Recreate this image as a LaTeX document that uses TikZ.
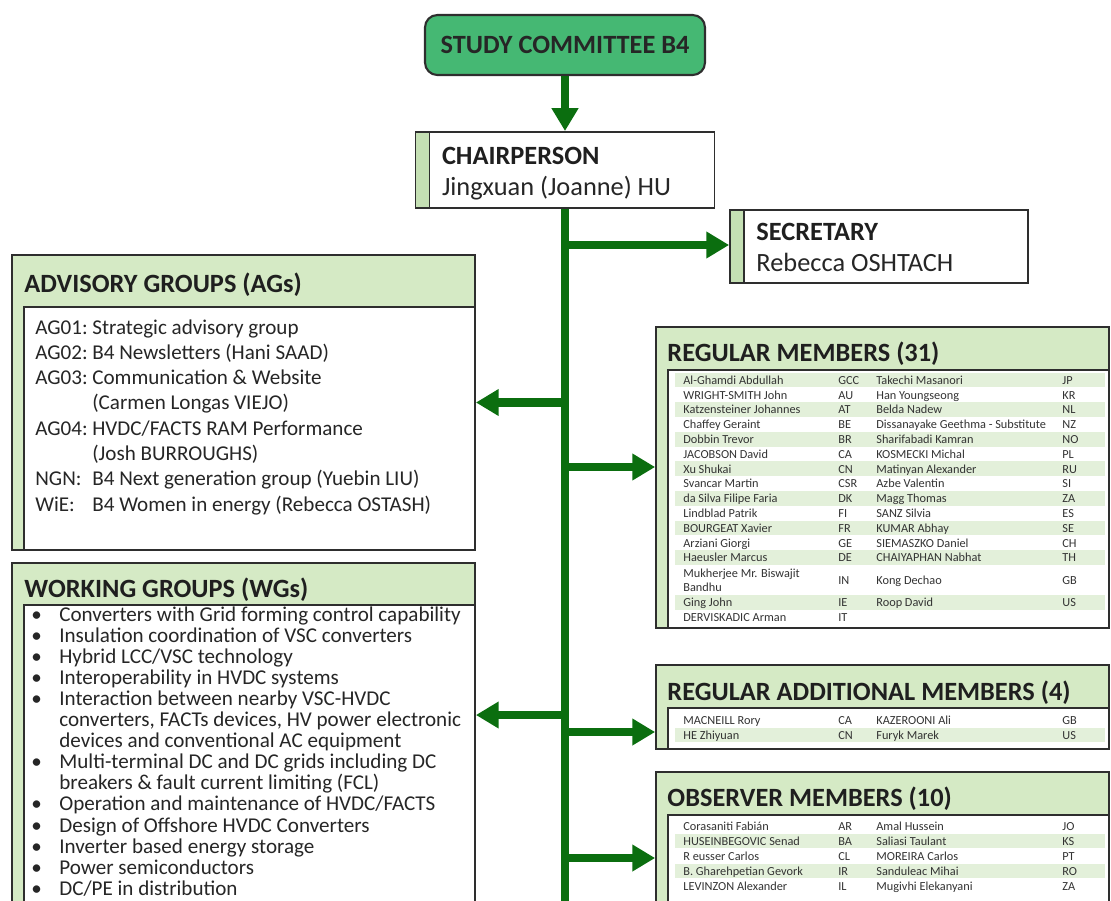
\documentclass[tikz,border=0pt]{standalone}
\usepackage{fontspec}
\setmainfont{Carlito}
\usetikzlibrary{arrows.meta,positioning,fit}

\definecolor{trunkgreen}{HTML}{0B6E0F}
\definecolor{titlegreen}{HTML}{45B873}
\definecolor{headgreen}{HTML}{D5EAC5}
\definecolor{stripgreen}{HTML}{C5E0B4}
\definecolor{rowgreen}{HTML}{E3F0DA}
\definecolor{boxline}{HTML}{2E2E2E}

\tikzset{
  trunk/.style={trunkgreen, line width=4.6pt},
  flow/.style={trunk, -{Triangle[width=14.5pt,length=13pt]}},
  titlebox/.style={draw=boxline, line width=1.2pt, fill=titlegreen, rounded corners=7pt,
    font=\fontsize{15}{18}\selectfont\bfseries, text=black!85},
  rolebox/.style={draw=boxline, line width=1pt, fill=white, inner sep=0pt,
    path picture={
      \fill[stripgreen] (path picture bounding box.north west) rectangle ([xshift=0.28cm]path picture bounding box.south west);
      \draw[boxline, line width=1pt] ([xshift=0.28cm]path picture bounding box.north west) -- ([xshift=0.28cm]path picture bounding box.south west);
    }},
  groupbox/.style={draw=boxline, line width=1pt, fill=headgreen, inner sep=0pt},
  innerbox/.style={draw=boxline, line width=1pt, fill=white, inner sep=0pt},
  hdr/.style={anchor=base west, inner sep=0pt, font=\fontsize{15}{18}\selectfont\bfseries, text=black!88},
  rolename/.style={anchor=base west, inner sep=0pt, font=\fontsize{15}{18}\selectfont, text=black!85},
  agtxt/.style={anchor=base west, inner sep=0pt, font=\fontsize{12}{14}\selectfont, text=black!85},
  wgtxt/.style={anchor=base west, inner sep=0pt, font=\fontsize{12}{12}\selectfont, text=black!85},
  memtxt/.style={anchor=mid west, inner sep=0pt, font=\fontsize{7}{8.2}\selectfont, text=black!80},
}

\begin{document}
\begin{tikzpicture}[x=0.02cm, y=-0.02cm]
\useasboundingbox (0,0) rectangle (1111,900);
\clip (0,0) rectangle (1111,900);

% top of the tree
\node[titlebox, minimum width=5.6cm, minimum height=1.2cm] (sc) at (565,45) {STUDY COMMITTEE B4};
\node[rolebox, minimum width=5.98cm, minimum height=1.52cm, below=1.1cm of sc] (chair) {};
\node[hdr] (chairT) at ([shift={(27,33)}]chair.north west) {CHAIRPERSON};
\node[rolename] (chairN) at ([shift={(27,64)}]chair.north west) {Jingxuan (Joanne) HU};

\node[rolebox, fit={(730,210) (1028,283)}] (sec) {};
\node[hdr] (secT) at ([shift={(27,31)}]sec.north west) {SECRETARY};
\node[rolename] (secN) at ([shift={(27,62)}]sec.north west) {Rebecca OSHTACH};

% left side groups
\node[groupbox, fit={(12,255) (475,550)}] (ag) {};
\node[innerbox, fit={(24,307) (475,550)}] (agIn) {};
\node[hdr] (agT) at ([shift={(13,38)}]ag.north west) {ADVISORY GROUPS (AGs)};
\foreach \k/\l/\t in {1/AG01:/Strategic advisory group, 2/AG02:/B4 Newsletters (Hani SAAD),
    3/AG03:/Communication \& Website, 4//(Carmen Longas VIEJO), 5/AG04:/{HVDC/FACTS RAM Performance},
    6//(Josh BURROUGHS), 7/NGN:/B4 Next generation group (Yuebin LIU), 8/WiE:/B4 Women in energy (Rebecca OSTASH)}{
  \node[agtxt] (agL\k) at (35,{334+(\k-1)*25.3}) {\l};
  \node[agtxt] (agR\k) at (92,{334+(\k-1)*25.3}) {\t};
}

\node[groupbox, fit={(12,563) (475,915)}] (wg) {};
\node[innerbox, fit={(24,605) (475,915)}] (wgIn) {};
\node[hdr] (wgT) at ([shift={(13,35)}]wg.north west) {WORKING GROUPS (WGs)};
\foreach \k/\b/\t in {1/1/Converters with Grid forming control capability, 2/1/Insulation coordination of VSC converters,
    3/1/{Hybrid LCC/VSC technology}, 4/1/Interoperability in HVDC systems, 5/1/Interaction between nearby VSC-HVDC,
    6/0/{converters, FACTs devices, HV power electronic}, 7/0/devices and conventional AC equipment,
    8/1/Multi-terminal DC and DC grids including DC, 9/0/breakers \& fault current limiting (FCL),
    10/1/{Operation and maintenance of HVDC/FACTS}, 11/1/Design of Offshore HVDC Converters,
    12/1/Inverter based energy storage, 13/1/Power semiconductors, 14/1/{DC/PE in distribution}}{
  \ifnum\b=1 \node[wgtxt] (wgB\k) at (31,{621+(\k-1)*21.1}) {\textbullet}; \fi
  \node[wgtxt] (wgL\k) at (59,{621+(\k-1)*21.1}) {\t};
}

% right side members
\node[groupbox, fit={(656,327) (1109,628)}] (reg) {};
\node[innerbox, fit={(668,370) (1109,628)}] (regIn) {};
\node[hdr] (regT) at ([shift={(12,35)}]reg.north west) {REGULAR MEMBERS (31)};
\foreach \k/\y/\f/\a/\b/\c/\d in {1/380/1/Al-Ghamdi Abdullah/GCC/Takechi Masanori/JP,
    2/394.8/0/WRIGHT-SMITH John/AU/Han Youngseong/KR, 3/409.6/1/Katzensteiner Johannes/AT/Belda Nadew/NL,
    4/424.4/0/Chaffey Geraint/BE/Dissanayake Geethma - Substitute/NZ, 5/439.2/1/Dobbin Trevor/BR/Sharifabadi Kamran/NO,
    6/454/0/JACOBSON David/CA/KOSMECKI Michal/PL, 7/468.8/1/Xu Shukai/CN/Matinyan Alexander/RU,
    8/483.6/0/Svancar Martin/CSR/Azbe Valentin/SI, 9/498.4/1/da Silva Filipe Faria/DK/Magg Thomas/ZA,
    10/513.2/0/Lindblad Patrik/FI/SANZ Silvia/ES, 11/528/1/BOURGEAT Xavier/FR/KUMAR Abhay/SE,
    12/542.8/0/Arziani Giorgi/GE/SIEMASZKO Daniel/CH, 13/557.6/1/Haeusler Marcus/DE/CHAIYAPHAN Nabhat/TH,
    15/602.5/1/Ging John/IE/Roop David/US, 16/617.3/0/DERVISKADIC Arman/IT//}{
  \ifnum\f=1 \fill[rowgreen] (675,{\y-7.4}) rectangle (1105,{\y+7.4}); \fi
  \node[memtxt] (regA\k) at (683,\y) {\a};
  \node[memtxt] (regB\k) at (838,\y) {\b};
  \node[memtxt] (regC\k) at (876,\y) {\c};
  \node[memtxt] (regD\k) at (1062,\y) {\d};
}
\node[memtxt, align=left, anchor=west] (regA14) at (683,580) {Mukherjee Mr. Biswajit\\Bandhu};
\node[memtxt] (regB14) at (838,580) {IN};
\node[memtxt] (regC14) at (876,580) {Kong Dechao};
\node[memtxt] (regD14) at (1062,580) {GB};

\node[groupbox, fit={(656,665) (1109,749)}] (add) {};
\node[innerbox, fit={(668,708) (1109,749)}] (addIn) {};
\node[hdr] (addT) at ([shift={(12,36)}]add.north west) {REGULAR ADDITIONAL MEMBERS (4)};
\foreach \k/\y/\f/\a/\b/\c/\d in {1/720/0/MACNEILL Rory/CA/KAZEROONI Ali/GB, 2/735/1/HE Zhiyuan/CN/Furyk Marek/US}{
  \ifnum\f=1 \fill[rowgreen] (675,{\y-7.4}) rectangle (1105,{\y+7.4}); \fi
  \node[memtxt] (addA\k) at (683,\y) {\a};
  \node[memtxt] (addB\k) at (838,\y) {\b};
  \node[memtxt] (addC\k) at (876,\y) {\c};
  \node[memtxt] (addD\k) at (1062,\y) {\d};
}

\node[groupbox, fit={(656,772) (1109,915)}] (obs) {};
\node[innerbox, fit={(668,815) (1109,915)}] (obsIn) {};
\node[hdr] (obsT) at ([shift={(12,35)}]obs.north west) {OBSERVER MEMBERS (10)};
\foreach \k/\y/\f/\a/\b/\c/\d in {1/826/0/Corasaniti Fabián/AR/Amal Hussein/JO, 2/841/1/HUSEINBEGOVIC Senad/BA/Saliasi Taulant/KS,
    3/856/0/R eusser Carlos/CL/MOREIRA Carlos/PT, 4/871/1/B. Gharehpetian Gevork/IR/Sanduleac Mihai/RO,
    5/886/0/LEVINZON Alexander/IL/Mugivhi Elekanyani/ZA}{
  \ifnum\f=1 \fill[rowgreen] (675,{\y-7.4}) rectangle (1105,{\y+7.4}); \fi
  \node[memtxt] (obsA\k) at (683,\y) {\a};
  \node[memtxt] (obsB\k) at (838,\y) {\b};
  \node[memtxt] (obsC\k) at (876,\y) {\c};
  \node[memtxt] (obsD\k) at (1062,\y) {\d};
}

% connectors
\coordinate (tBot) at (565,915);
\coordinate (jSec) at (565,245);
\coordinate (jWG) at (565,715);
\coordinate (jReg) at (565,467);
\coordinate (jAdd) at (565,732);
\coordinate (jObs) at (565,858);
\draw[flow] (sc) -- (chair);
\draw[trunk] (chair.south) -- (tBot);
\draw[flow] (jSec) -- (jSec -| sec.west);
\draw[flow] (ag.east -| chair.south) -- (ag.east);
\draw[flow] (jWG) -- (jWG -| wg.east);
\draw[flow] (jReg) -- (jReg -| reg.west);
\draw[flow] (jAdd) -- (jAdd -| add.west);
\draw[flow] (jObs) -- (jObs -| obs.west);
\end{tikzpicture}
\end{document}
